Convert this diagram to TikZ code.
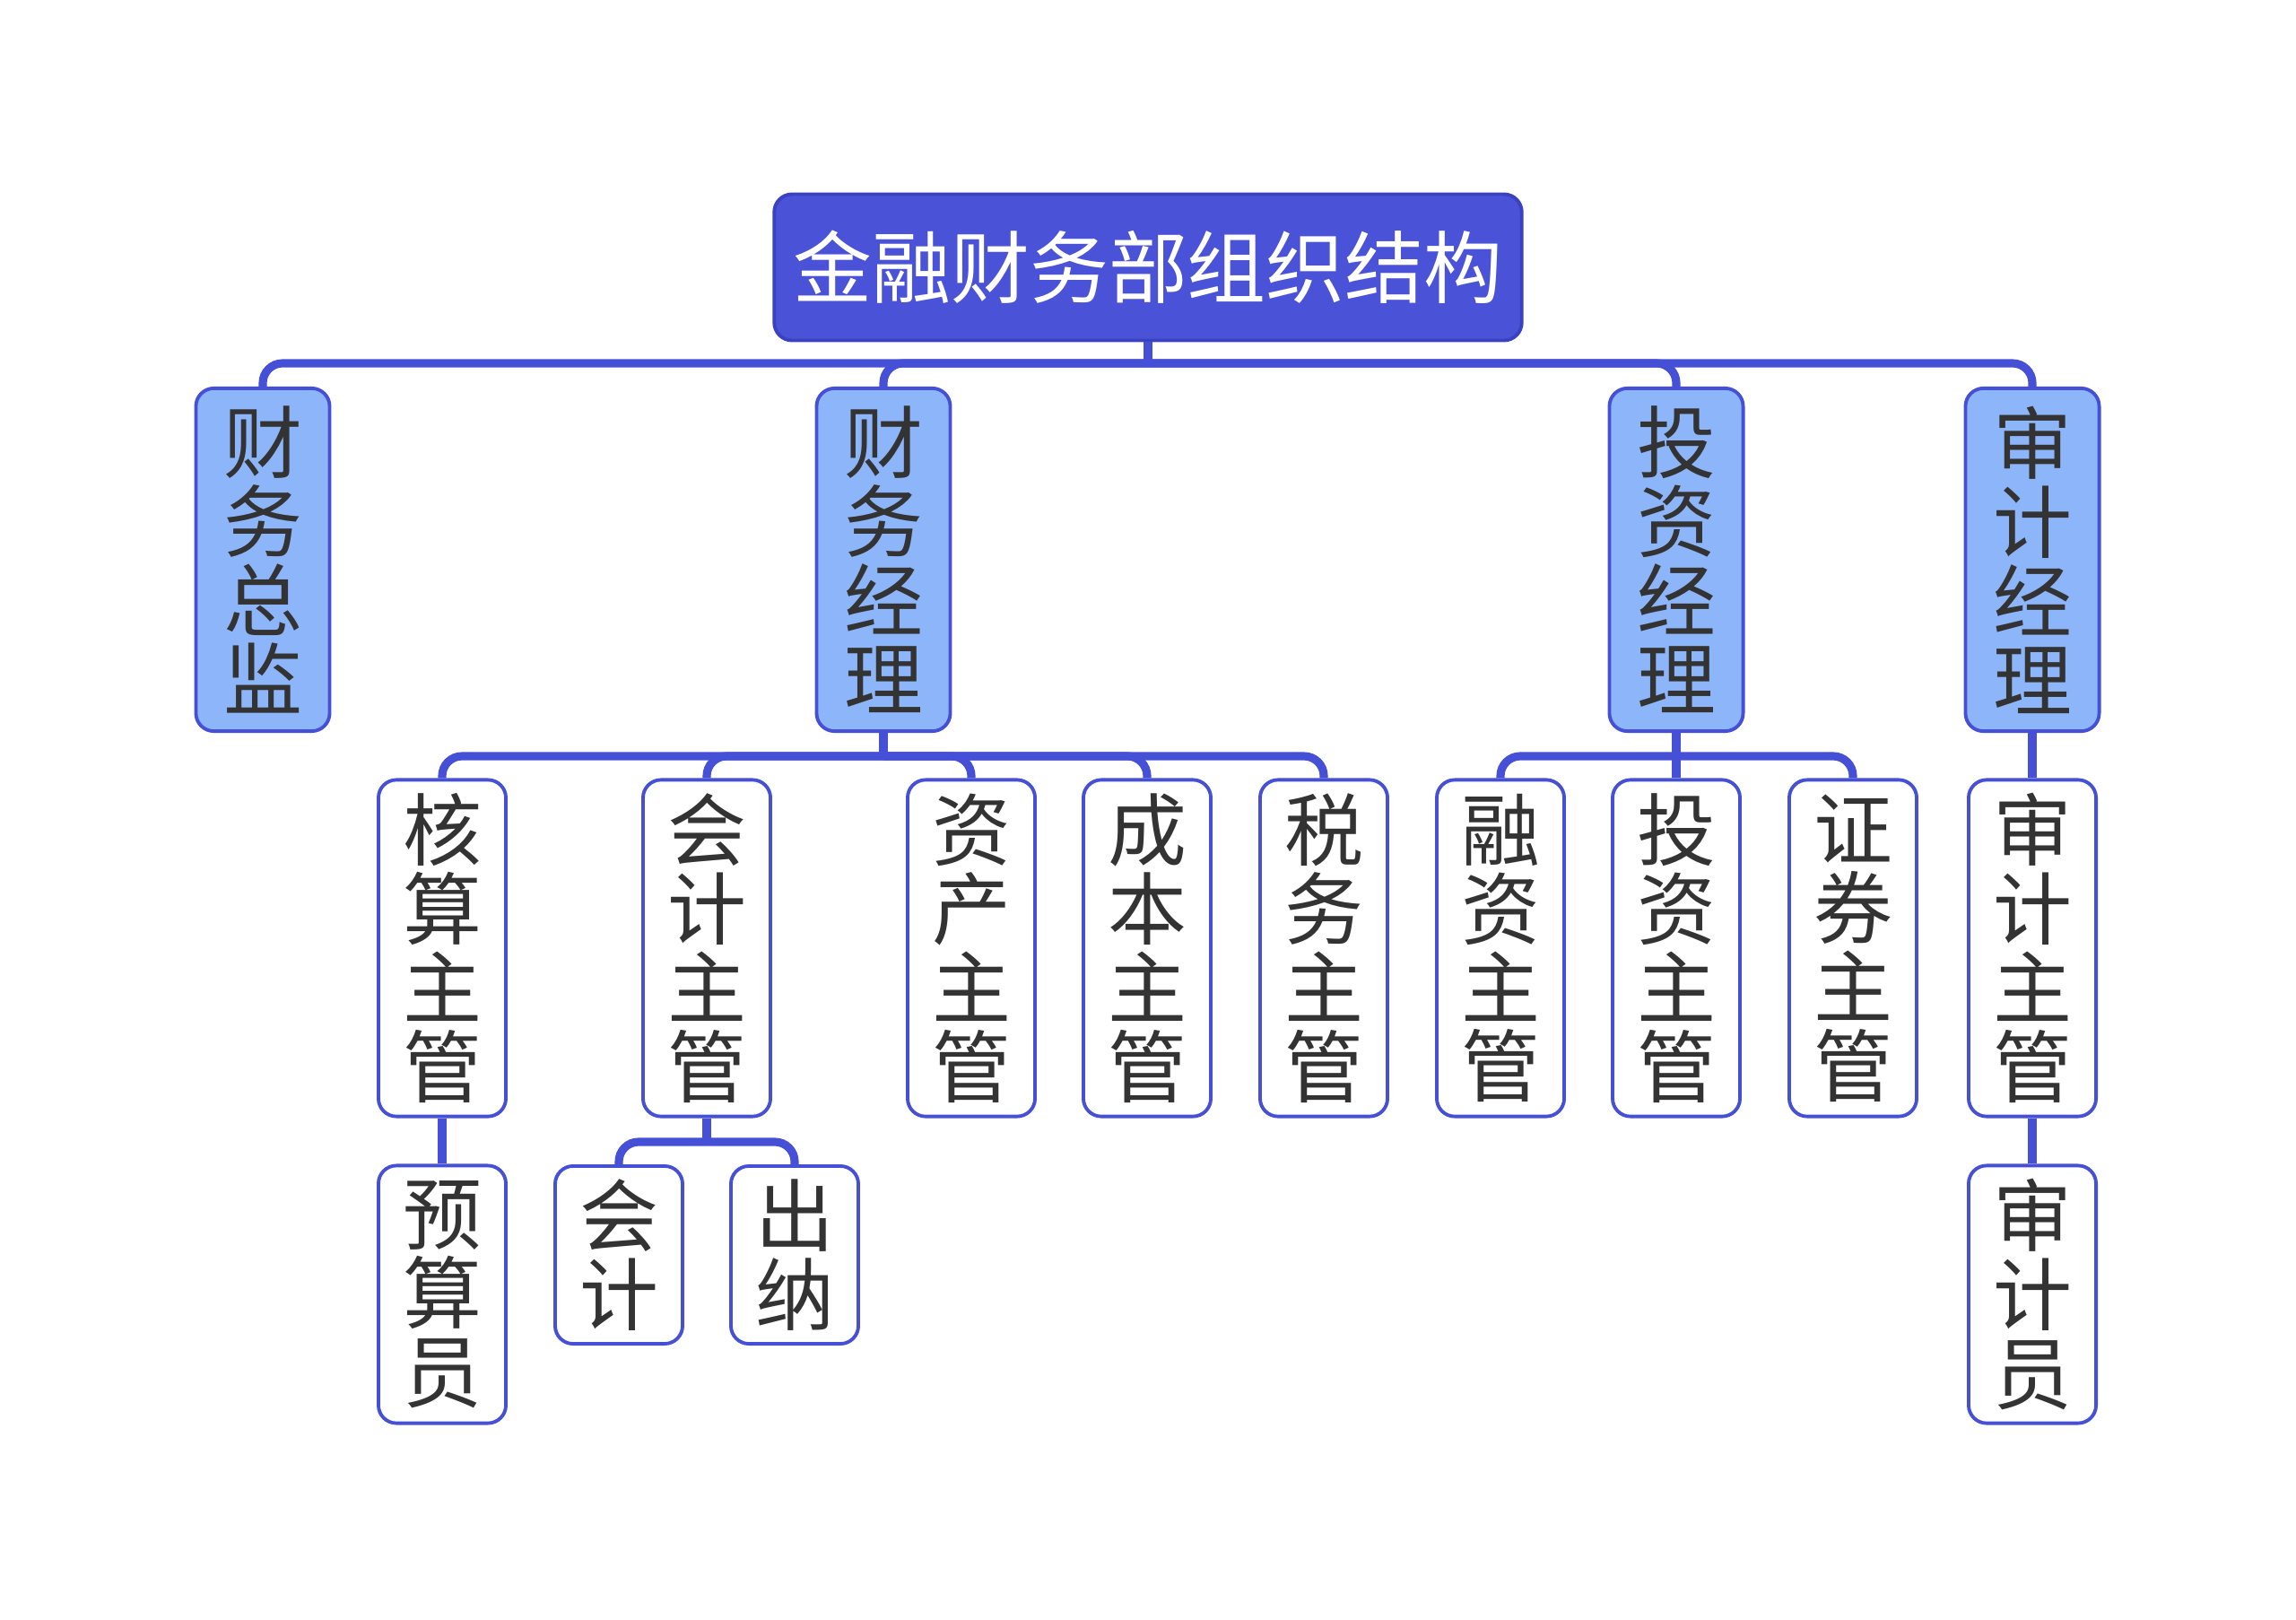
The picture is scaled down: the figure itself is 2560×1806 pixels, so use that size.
\documentclass[tikz,border=0pt]{standalone}
\usepackage{fontspec}
\newfontfamily\cjk{Noto Sans CJK SC}
\definecolor{rootfill}{HTML}{4A52D8}
\definecolor{rootline}{HTML}{3A42C2}
\definecolor{lonefill}{HTML}{8DB5FA}
\definecolor{edge}{HTML}{4650D6}
\definecolor{ink}{HTML}{333333}
\tikzset{
  box/.style={draw=edge, line width=1.1pt, rounded corners=0.2cm, align=center,
    inner sep=0pt, font=\cjk\fontsize{25}{25}\selectfont, text=ink,
    minimum width=1.42cm},
  rootbox/.style={box, fill=rootfill, draw=rootline, text=white,
    minimum width=8.33cm, minimum height=1.63cm},
  lone/.style={box, fill=lonefill, minimum width=1.49cm, minimum height=3.82cm},
  ltwo/.style={box, fill=white, minimum height=3.75cm},
  lthree/.style={box, fill=white, minimum height=2.87cm},
  ltwochar/.style={box, fill=white, minimum height=1.98cm},
  conn/.style={draw=edge, line width=2.6pt, rounded corners=0.22cm},
}
\begin{document}
\begin{tikzpicture}[x=0.01cm,y=-0.01cm]
\useasboundingbox[fill=white] (0,0) rectangle (2560,1806);
% connectors first (behind nodes)
\coordinate (b1) at (1280,405);
\coordinate (b2) at (985,843);
\coordinate (b3) at (1869,843);
\coordinate (b4) at (788,1273);
% nodes
\node[rootbox] (root) at (1280,298) {金融财务部组织结构};
\node[lone] (cfo) at (293,624) {财\\务\\总\\监};
\node[lone] (fm) at (985,624) {财\\务\\经\\理};
\node[lone] (im) at (1869,624) {投\\资\\经\\理};
\node[lone] (am) at (2266,624) {审\\计\\经\\理};
\node[ltwo] (hs) at (493,1057) {核\\算\\主\\管};
\node[ltwo] (kj) at (788,1057) {会\\计\\主\\管};
\node[ltwo] (zc) at (1083,1057) {资\\产\\主\\管};
\node[ltwo] (cb) at (1279,1057) {成\\本\\主\\管};
\node[ltwo] (sw) at (1476,1057) {税\\务\\主\\管};
\node[ltwo] (rz) at (1673,1057) {融\\资\\主\\管};
\node[ltwo] (tz) at (1869,1057) {投\\资\\主\\管};
\node[ltwo] (zq) at (2066,1057) {证\\券\\主\\管};
\node[ltwo] (sj) at (2266,1057) {审\\计\\主\\管};
\node[lthree] (ys) at (493,1443) {预\\算\\员};
\node[ltwochar] (kjy) at (690,1399) {会\\计};
\node[ltwochar] (cn) at (886,1399) {出\\纳};
\node[lthree] (sjy) at (2266,1443) {审\\计\\员};
% connectors
\draw[conn] (root.south) -- (b1);
\foreach \n in {cfo,fm,im,am} \draw[conn] (b1) -| (\n.north);
\draw[conn] (fm.south) -- (b2);
\foreach \n in {hs,kj,zc,cb,sw} \draw[conn] (b2) -| (\n.north);
\draw[conn] (im.south) -- (b3);
\foreach \n in {rz,tz,zq} \draw[conn] (b3) -| (\n.north);
\draw[conn] (am.south) -- (sj.north);
\draw[conn] (hs.south) -- (ys.north);
\draw[conn] (sj.south) -- (sjy.north);
\draw[conn] (kj.south) -- (b4);
\foreach \n in {kjy,cn} \draw[conn] (b4) -| (\n.north);
\end{tikzpicture}
\end{document}
